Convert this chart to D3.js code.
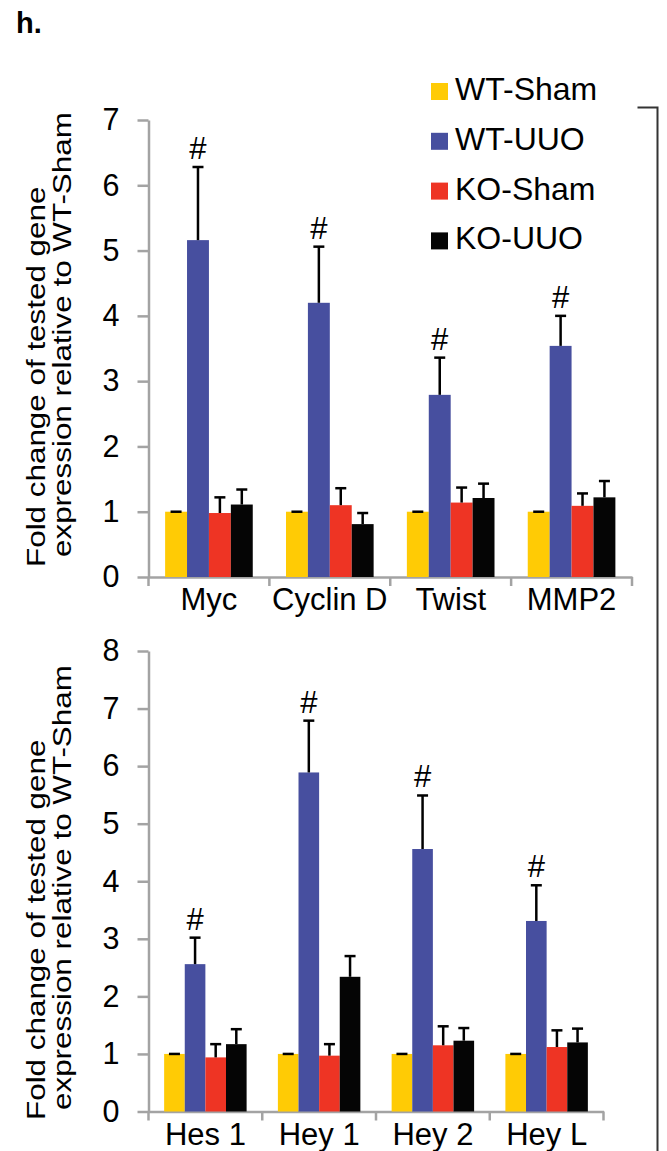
<!DOCTYPE html>
<html>
<head>
<meta charset="utf-8">
<script src="https://cdn.jsdelivr.net/npm/d3@7"></script>
<style>
  body { margin: 0; background: #fff; }
  text { font-family: "Liberation Sans", Arial, sans-serif; fill: #000; }
</style>
</head>
<body>
<div id="chart"></div>
<script>
// groups / legend
const groups = ["WT-Sham", "WT-UUO", "KO-Sham", "KO-UUO"];
const groupColors = ["#ffcb05", "#474f9f", "#ee3424", "#050505"];

// top panel
const topGenes = ["Myc", "Cyclin D", "Twist", "MMP2"];
const topWtSham = [1, 1, 1, 1];
const topWtShamErr = [0, 0, 0, 0];
const topWtUuo = [5.16, 4.20, 2.79, 3.54];
const topWtUuoErr = [1.12, 0.86, 0.57, 0.46];
const topKoSham = [0.98, 1.10, 1.14, 1.09];
const topKoShamErr = [0.24, 0.26, 0.23, 0.19];
const topKoUuo = [1.11, 0.81, 1.21, 1.22];
const topKoUuoErr = [0.23, 0.17, 0.22, 0.25];
const topSig = ["#", "#", "#", "#"];

// bottom panel
const botGenes = ["Hes 1", "Hey 1", "Hey 2", "Hey L"];
const botWtSham = [1, 1, 1, 1];
const botWtShamErr = [0, 0, 0, 0];
const botWtUuo = [2.56, 5.89, 4.56, 3.31];
const botWtUuoErr = [0.46, 0.90, 0.93, 0.62];
const botKoSham = [0.94, 0.97, 1.15, 1.12];
const botKoShamErr = [0.23, 0.20, 0.33, 0.29];
const botKoUuo = [1.17, 2.34, 1.23, 1.20];
const botKoUuoErr = [0.26, 0.36, 0.22, 0.24];
const botSig = ["#", "#", "#", "#"];

const yTitle1 = "Fold change of tested gene";
const yTitle2 = "expression relative to WT-Sham";

const width = 667, height = 1151;
const axisColor = "#a3a3a3";

const svg = d3.select("#chart")
  .append("svg")
    .attr("width", width)
    .attr("height", height)
    .attr("viewBox", [0, 0, width, height]);

svg.append("rect").attr("width", width).attr("height", height).attr("fill", "#fff");

/* panel letter */
svg.append("text")
  .attr("x", 16).attr("y", 33)
  .attr("font-size", 29).attr("font-weight", "bold")
  .text("h.");

const drawPanel = (cfg) => {
  const means = [cfg.wtSham, cfg.wtUuo, cfg.koSham, cfg.koUuo];
  const errs = [cfg.wtShamErr, cfg.wtUuoErr, cfg.koShamErr, cfg.koUuoErr];

  const rows = [];
  cfg.genes.forEach((gene, i) => {
    groups.forEach((grp, j) => {
      rows.push({ gene, grp, j, value: means[j][i], err: errs[j][i] });
    });
  });

  const x = d3.scaleBand()
    .domain(cfg.genes)
    .range([cfg.left, cfg.right])
    .paddingInner(0.275)
    .paddingOuter(0.1375);

  const x1 = d3.scaleBand()
    .domain(groups)
    .range([0, x.bandwidth()]);

  const y = d3.scaleLinear()
    .domain([0, cfg.yMax])
    .range([cfg.bottom, cfg.top]);

  const g = svg.append("g");

  // y axis
  const yAxis = g.append("g")
    .attr("transform", `translate(${cfg.left},0)`)
    .call(d3.axisLeft(y).ticks(cfg.yMax).tickSize(11).tickSizeOuter(0).tickPadding(18));
  yAxis.select(".domain").attr("stroke", axisColor).attr("stroke-width", 2.5);
  yAxis.selectAll(".tick line").attr("stroke", axisColor).attr("stroke-width", 2.5);
  yAxis.selectAll(".tick text")
    .attr("font-size", 30.5)
    .attr("font-family", "Liberation Sans, Arial, sans-serif")
    .attr("fill", "#000");

  // x axis (labels)
  const xAxis = g.append("g")
    .attr("transform", `translate(0,${cfg.bottom})`)
    .call(d3.axisBottom(x).tickSize(0).tickSizeOuter(0));
  xAxis.select(".domain").attr("stroke", axisColor).attr("stroke-width", 2.5);
  xAxis.selectAll(".tick text")
    .attr("y", 33).attr("dy", 0)
    .attr("font-size", 31)
    .attr("font-family", "Liberation Sans, Arial, sans-serif")
    .attr("fill", "#000");

  // category boundary ticks
  const bounds = cfg.genes.map(d => x(d) - x.step() * x.paddingInner() / 2)
    .concat([x(cfg.genes[cfg.genes.length - 1]) + x.bandwidth() + x.step() * x.paddingInner() / 2]);
  g.append("g")
    .selectAll("line")
    .data(bounds)
    .join("line")
      .attr("x1", d => d).attr("x2", d => d)
      .attr("y1", cfg.bottom).attr("y2", cfg.bottom + 9)
      .attr("stroke", axisColor)
      .attr("stroke-width", 2.5);

  // bars
  g.append("g")
    .selectAll("rect")
    .data(rows)
    .join("rect")
      .attr("x", d => x(d.gene) + x1(d.grp))
      .attr("y", d => y(d.value))
      .attr("width", x1.bandwidth())
      .attr("height", d => y(0) - y(d.value))
      .attr("fill", d => groupColors[d.j]);

  // error bars (upper only)
  const eb = g.append("g").attr("stroke", "#000").attr("stroke-width", 2.5);
  eb.selectAll("line.stem")
    .data(rows.filter(d => d.err > 0))
    .join("line")
      .attr("class", "stem")
      .attr("x1", d => x(d.gene) + x1(d.grp) + x1.bandwidth() / 2)
      .attr("x2", d => x(d.gene) + x1(d.grp) + x1.bandwidth() / 2)
      .attr("y1", d => y(d.value))
      .attr("y2", d => y(d.value + d.err));
  eb.selectAll("line.cap")
    .data(rows)
    .join("line")
      .attr("class", "cap")
      .attr("x1", d => x(d.gene) + x1(d.grp) + x1.bandwidth() / 2 - 5.5)
      .attr("x2", d => x(d.gene) + x1(d.grp) + x1.bandwidth() / 2 + 5.5)
      .attr("y1", d => y(d.value + d.err))
      .attr("y2", d => y(d.value + d.err));

  // significance marks
  g.append("g")
    .selectAll("text")
    .data(rows.filter(d => d.j === 1))
    .join("text")
      .attr("x", d => x(d.gene) + x1(d.grp) + x1.bandwidth() / 2)
      .attr("y", d => y(d.value + d.err) - 8)
      .attr("text-anchor", "middle")
      .attr("font-size", 31)
      .text((d, i) => cfg.sig[i]);

  // y title (two lines, rotated)
  [[yTitle1, 45, cfg.titleY1], [yTitle2, 71, cfg.titleY2]].forEach(([t, bx, by]) => {
    g.append("text")
      .attr("transform", `translate(${bx},${by}) rotate(-90) scale(1,0.82)`)
      .attr("font-size", 31.4)
      .text(t);
  });
};

drawPanel({
  genes: topGenes,
  wtSham: topWtSham, wtShamErr: topWtShamErr,
  wtUuo: topWtUuo, wtUuoErr: topWtUuoErr,
  koSham: topKoSham, koShamErr: topKoShamErr,
  koUuo: topKoUuo, koUuoErr: topKoUuoErr,
  sig: topSig,
  yMax: 7, left: 148.5, right: 632, top: 120, bottom: 577,
  titleY1: 567, titleY2: 557
});

drawPanel({
  genes: botGenes,
  wtSham: botWtSham, wtShamErr: botWtShamErr,
  wtUuo: botWtUuo, wtUuoErr: botWtUuoErr,
  koSham: botKoSham, koShamErr: botKoShamErr,
  koUuo: botKoUuo, koUuoErr: botKoUuoErr,
  sig: botSig,
  yMax: 8, left: 148.5, right: 603.5, top: 651, bottom: 1111.5,
  titleY1: 1120, titleY2: 1110
});

/* legend */
const legend = svg.append("g")
  .selectAll("g")
  .data(groups)
  .join("g")
    .attr("transform", (d, i) => `translate(431,${100 + i * 49.8})`);
legend.append("rect")
  .attr("x", 0).attr("y", -17)
  .attr("width", 17).attr("height", 17)
  .attr("fill", (d, i) => groupColors[i]);
legend.append("text")
  .attr("x", 24).attr("y", 0)
  .attr("font-size", 32)
  .text(d => d);

/* bracket on the right */
svg.append("path")
  .attr("d", "M637.5,107.5 H657.5 V1151")
  .attr("fill", "none")
  .attr("stroke", "#333")
  .attr("stroke-width", 2);
</script>
</body>
</html>
